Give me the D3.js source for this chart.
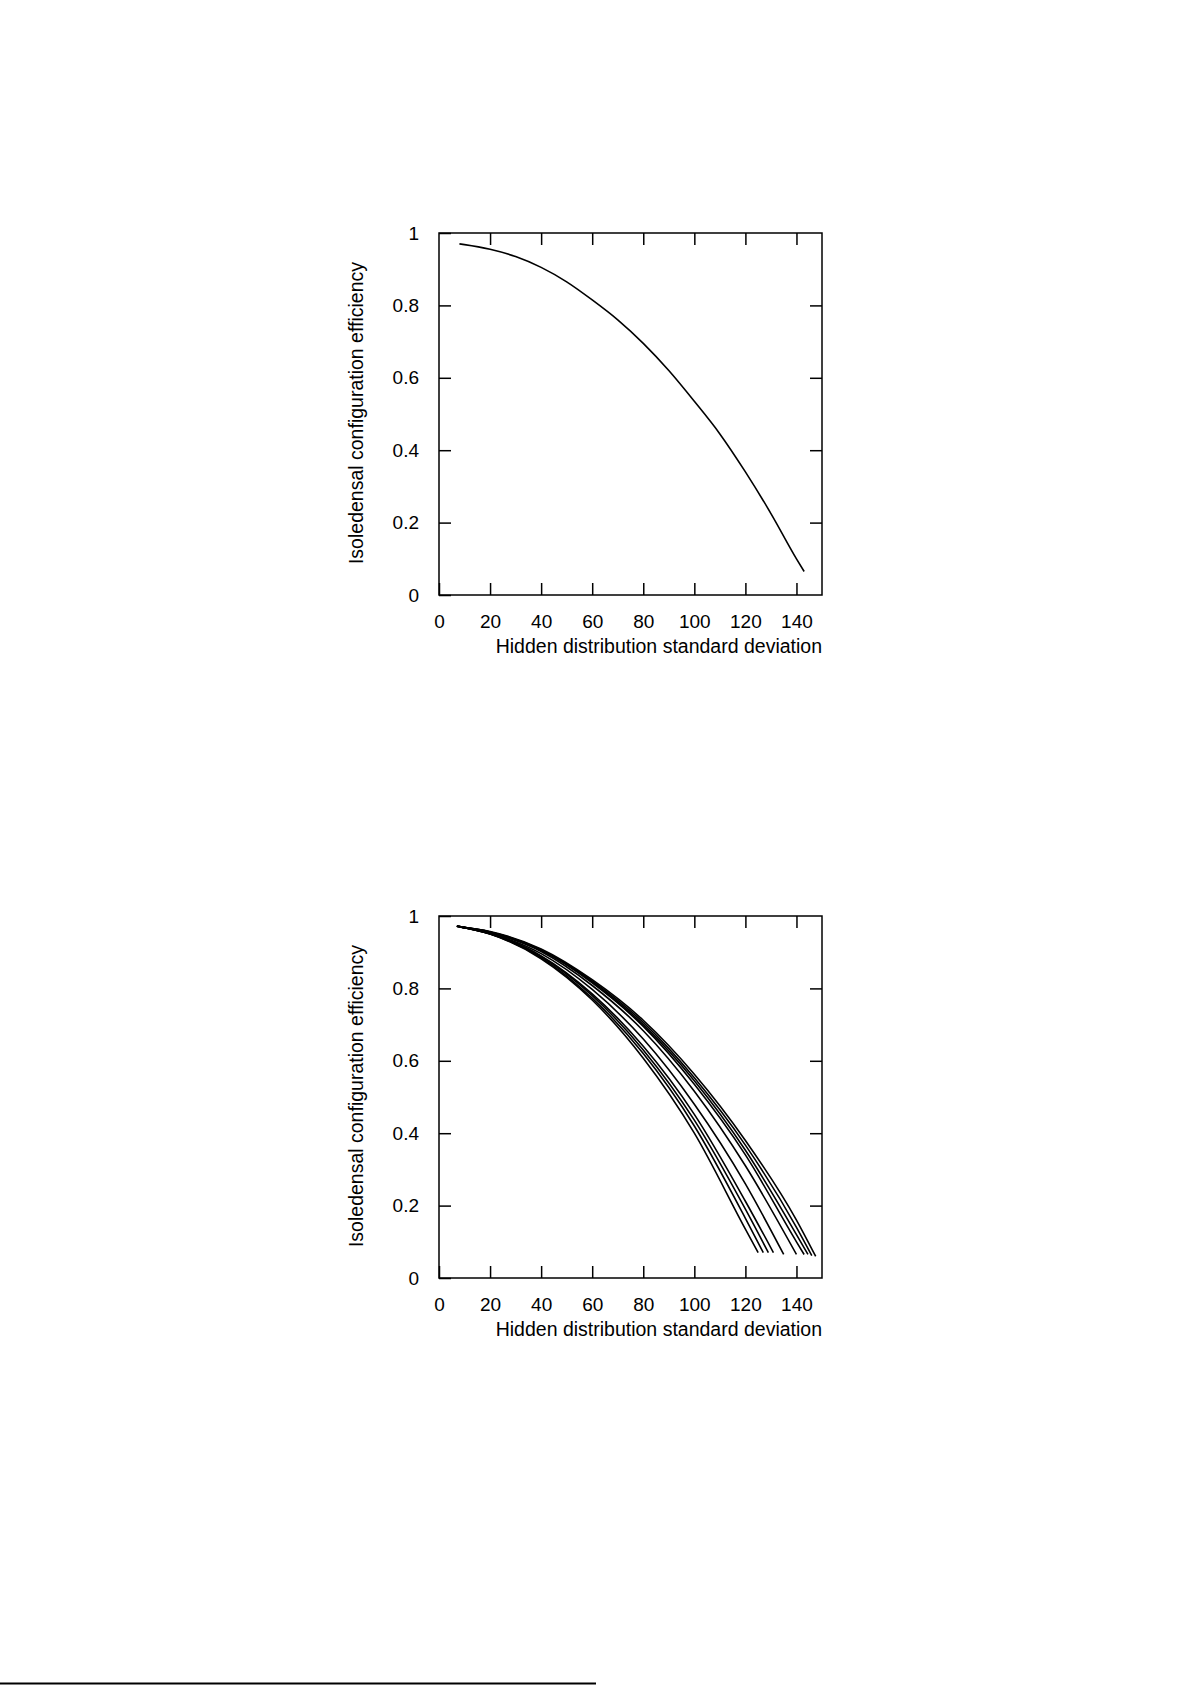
<!DOCTYPE html>
<html>
<head>
<meta charset="utf-8">
<script src="https://cdn.jsdelivr.net/npm/d3@7"></script>
<style>
  body { margin: 0; background: #fff; }
  svg { display: block; font-family: "Liberation Sans", Arial, sans-serif; }
</style>
</head>
<body>
<script>
const X_TICKS = [0, 20, 40, 60, 80, 100, 120, 140];
const Y_TICKS = [0, 0.2, 0.4, 0.6, 0.8, 1];
const X_LABEL = "Hidden distribution standard deviation";
const Y_LABEL = "Isoledensal configuration efficiency";

// top panel: single curve
const singleX = [8, 10, 20, 30, 40, 50, 60, 70, 80, 90, 100, 110, 120, 130, 140, 143];
const singleY = [0.97, 0.968, 0.955, 0.935, 0.905, 0.865, 0.815, 0.76, 0.695, 0.62, 0.535, 0.445, 0.34, 0.225, 0.10, 0.065];

// bottom panel: family of curves, each [x values, y values]
const familyCurves = [
  [[7, 20, 40, 60, 80, 100, 120, 125], [0.972, 0.950, 0.882, 0.768, 0.607, 0.40, 0.135, 0.07]],
  [[7, 20, 40, 60, 80, 100, 120, 127], [0.972, 0.950, 0.885, 0.773, 0.62, 0.42, 0.165, 0.07]],
  [[7, 20, 40, 60, 80, 100, 120, 129], [0.972, 0.951, 0.888, 0.78, 0.63, 0.436, 0.19, 0.07]],
  [[7, 20, 40, 60, 80, 100, 120, 131], [0.972, 0.951, 0.89, 0.785, 0.64, 0.452, 0.212, 0.07]],
  [[7, 20, 40, 60, 80, 100, 120, 135], [0.972, 0.952, 0.896, 0.797, 0.66, 0.48, 0.26, 0.065]],
  [[7, 20, 40, 60, 80, 100, 120, 140], [0.972, 0.954, 0.902, 0.808, 0.683, 0.516, 0.31, 0.065]],
  [[8, 20, 40, 60, 80, 100, 120, 140, 143], [0.97, 0.955, 0.905, 0.815, 0.695, 0.535, 0.34, 0.10, 0.065]],
  [[8, 20, 40, 60, 80, 100, 120, 140, 144.5], [0.97, 0.956, 0.906, 0.818, 0.70, 0.545, 0.353, 0.12, 0.065]],
  [[8, 20, 40, 60, 80, 100, 120, 140, 146], [0.97, 0.956, 0.907, 0.821, 0.706, 0.553, 0.367, 0.14, 0.062]],
  [[8, 20, 40, 60, 80, 100, 120, 140, 147.5], [0.97, 0.957, 0.909, 0.824, 0.712, 0.563, 0.38, 0.16, 0.06]]
];

const WIDTH = 1191;
const HEIGHT = 1685;
const PLOT_LEFT = 439;
const PLOT_RIGHT = 822;
const PLOT_H = 362;
const TICK = 12;

const svg = d3.select("body").append("svg")
  .attr("width", WIDTH).attr("height", HEIGHT);

function drawPanel(top, curves) {
  const x = d3.scaleLinear().domain([0, 150]).range([PLOT_LEFT, PLOT_RIGHT]);
  const y = d3.scaleLinear().domain([0, 1]).range([top + PLOT_H, top]);
  const g = svg.append("g");

  const inner = (sel) => sel.call((s) => s.select(".domain").remove())
    .call((s) => s.selectAll("line").attr("stroke", "#000").attr("stroke-width", 1.5))
    .call((s) => s.selectAll("text").attr("font-size", 19).attr("fill", "#000"));

  g.append("g").attr("transform", `translate(0,${top + PLOT_H})`)
    .call(d3.axisBottom(x).tickValues(X_TICKS).tickSize(-TICK).tickPadding(TICK + 8).tickFormat(d3.format("d")))
    .call(inner);
  g.append("g").attr("transform", `translate(0,${top})`)
    .call(d3.axisTop(x).tickValues(X_TICKS.slice(1)).tickSize(-TICK).tickFormat(""))
    .call(inner);
  g.append("g").attr("transform", `translate(${PLOT_LEFT},0)`)
    .call(d3.axisLeft(y).tickValues(Y_TICKS).tickSize(-TICK).tickPadding(TICK + 8).tickFormat((d) => d3.format("")(d)))
    .call(inner);
  g.append("g").attr("transform", `translate(${PLOT_RIGHT},0)`)
    .call(d3.axisRight(y).tickValues(Y_TICKS.slice(1, -1)).tickSize(-TICK).tickFormat(""))
    .call(inner);

  g.append("rect")
    .attr("x", PLOT_LEFT).attr("y", top)
    .attr("width", PLOT_RIGHT - PLOT_LEFT).attr("height", PLOT_H)
    .attr("fill", "none").attr("stroke", "#000").attr("stroke-width", 1.5);

  const line = d3.line().x((d) => x(d[0])).y((d) => y(d[1])).curve(d3.curveMonotoneX);
  curves.forEach(([xs, ys]) => {
    g.append("path")
      .attr("d", line(xs.map((v, i) => [v, ys[i]])))
      .attr("fill", "none").attr("stroke", "#000").attr("stroke-width", 1.6);
  });

  g.append("text")
    .attr("x", PLOT_RIGHT).attr("y", top + PLOT_H + 58)
    .attr("text-anchor", "end").attr("font-size", 19.5)
    .text(X_LABEL);
  g.append("text")
    .attr("transform", `translate(${363},${top + 180}) rotate(-90)`)
    .attr("text-anchor", "middle").attr("font-size", 19.5)
    .text(Y_LABEL);
}

drawPanel(233, [[singleX, singleY]]);
drawPanel(916, familyCurves);

svg.append("line")
  .attr("x1", 0).attr("x2", 596).attr("y1", 1683.5).attr("y2", 1683.5)
  .attr("stroke", "#000").attr("stroke-width", 2);
</script>
</body>
</html>
